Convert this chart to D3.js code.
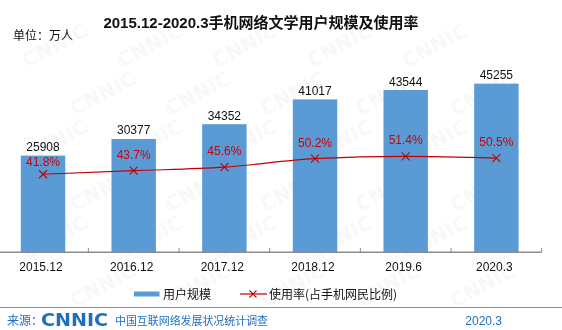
<!DOCTYPE html>
<html><head><meta charset="utf-8">
<script src="https://cdn.jsdelivr.net/npm/d3@7"></script>
<style>html,body{margin:0;padding:0;background:#fff;}svg{display:block;}</style>
</head><body>
<svg id="c" width="562" height="330"></svg>
<script>
const categories = ["2015.12","2016.12","2017.12","2018.12","2019.6","2020.3"];
const users = [25908, 30377, 34352, 41017, 43544, 45255];
const rates = [41.8, 43.7, 45.6, 50.2, 51.4, 50.5];
const title = "2015.12-2020.3手机网络文学用户规模及使用率";
const unitLabel = "单位：万人";
const legendNames = ["用户规模", "使用率(占手机网民比例)"];

const svg = d3.select("#c");
const W = 562, H = 330;
const blue = "#5b9bd5", red = "#c00000", footBlue = "#1f6fc0";
const fontLat = "'Liberation Sans', Arial, sans-serif";
const fontCJK = "'Liberation Sans', 'Noto Sans CJK SC', sans-serif";

// faint watermark (kept fully inside the picture)
const wm = svg.append("g").attr("fill", "#000").attr("opacity", 0.03)
  .style("font-family", "'DejaVu Sans', sans-serif").style("font-weight", "bold").style("font-size", "20px");
for (let r = 0; r < 8; r++) {
  for (let c = 0; c < 8; c++) {
    const px = c * 95 + (r % 2) * 47 - 20;
    const py = r * 48 + 20;
    if (px < 4 || px > W - 72 || py < 42 || py > H - 6) continue;
    wm.append("text").attr("transform", `translate(${px},${py}) rotate(-28)`).text("CNNIC");
  }
}

const x = d3.scaleBand().domain(categories).range([-2.3, 541.7]).paddingInner(0.51).paddingOuter(0.255);
const yL = d3.scaleLinear().domain([0, 50000]).range([252, 66]);
const yR = d3.scaleLinear().domain([0, 100]).range([252, 66]);

// bars
svg.append("g").selectAll("rect").data(users).join("rect")
  .attr("x", (d, i) => x(categories[i]))
  .attr("width", x.bandwidth())
  .attr("y", d => yL(d))
  .attr("height", d => yL(0) - yL(d))
  .attr("fill", blue);

// bar labels
svg.append("g").selectAll("text").data(users).join("text")
  .attr("x", (d, i) => x(categories[i]) + x.bandwidth() / 2)
  .attr("y", d => yL(d) - 4.5)
  .attr("text-anchor", "middle")
  .style("font-family", fontLat).style("font-size", "12px").attr("fill", "#111")
  .text(d => d);

// x axis
const step = x.step();
const axis = svg.append("g");
axis.append("line").attr("x1", 0).attr("x2", 541.7).attr("y1", 252.3).attr("y2", 252.3)
  .attr("stroke", "#8c8c8c").attr("stroke-width", 1.5);
const bounds = categories.map(c => x(c) - (step - x.bandwidth()) / 2 + step);
axis.selectAll("line.t").data(bounds).join("line").attr("class", "t")
  .attr("x1", d => d).attr("x2", d => d).attr("y1", 248).attr("y2", 252.3)
  .attr("stroke", "#8c8c8c").attr("stroke-width", 1);
axis.selectAll("text").data(categories).join("text")
  .attr("x", d => x(d) + x.bandwidth() / 2 - 2)
  .attr("y", 270.5)
  .attr("text-anchor", "middle")
  .style("font-family", fontLat).style("font-size", "12px").attr("fill", "#111")
  .text(d => d);

// line
const cx = i => x(categories[i]) + x.bandwidth() / 2;
const line = d3.line().x((d, i) => cx(i)).y(d => yR(d)).curve(d3.curveMonotoneX);
svg.append("path").datum(rates).attr("d", line).attr("fill", "none")
  .attr("stroke", red).attr("stroke-width", 1.2);
const mk = svg.append("g").attr("stroke", red).attr("stroke-width", 1.1);
rates.forEach((d, i) => {
  const px = cx(i), py = yR(d), s = 4;
  mk.append("path").attr("d", `M${px - s},${py - s}L${px + s},${py + s}M${px - s},${py + s}L${px + s},${py - s}`);
});
// percent labels: above the marker, but kept below the bar's value label
svg.append("g").selectAll("text").data(rates).join("text")
  .attr("x", (d, i) => cx(i))
  .attr("y", (d, i) => Math.max(yR(d) - 12, yL(users[i]) - 4.5 + 15))
  .attr("text-anchor", "middle")
  .style("font-family", fontLat).style("font-size", "12px").attr("fill", "#cc0000")
  .text(d => d.toFixed(1) + "%");

// title
svg.append("text").attr("x", 261).attr("y", 28).attr("text-anchor", "middle")
  .style("font-family", fontCJK).style("font-weight", "bold").style("font-size", "15px")
  .attr("fill", "#111").text(title);
svg.append("text").attr("x", 13).attr("y", 39.5)
  .style("font-family", "'Noto Sans CJK SC', sans-serif").style("font-size", "12px")
  .attr("fill", "#111").text(unitLabel);

// legend
const lg = svg.append("g");
lg.append("rect").attr("x", 134).attr("y", 291.5).attr("width", 25.5).attr("height", 5).attr("fill", blue);
lg.append("text").attr("x", 163).attr("y", 298.5)
  .style("font-family", "'Noto Sans CJK SC', sans-serif").style("font-size", "12px").attr("fill", "#111").text(legendNames[0]);
lg.append("line").attr("x1", 240).attr("x2", 267).attr("y1", 294).attr("y2", 294).attr("stroke", red).attr("stroke-width", 1.2);
lg.append("path").attr("d", "M249.5,290.5L256.5,297.5M249.5,297.5L256.5,290.5").attr("stroke", red).attr("stroke-width", 1.1);
lg.append("text").attr("x", 269).attr("y", 298.5)
  .style("font-family", "'Noto Sans CJK SC', sans-serif").style("font-size", "12px").attr("fill", "#111").text(legendNames[1]);

// footer
svg.append("line").attr("x1", 0).attr("x2", W).attr("y1", 307.5).attr("y2", 307.5).attr("stroke", "#5b9bd5").attr("stroke-width", 1.2);
svg.append("text").attr("x", 7).attr("y", 324.5)
  .style("font-family", "'Noto Sans CJK SC', sans-serif").style("font-size", "12px").attr("fill", footBlue).text("来源：");
svg.append("text").attr("x", 41).attr("y", 325.5).attr("textLength", 67).attr("lengthAdjust", "spacingAndGlyphs")
  .style("font-family", "'DejaVu Sans', sans-serif").style("font-weight", "bold").style("font-size", "18px")
  .attr("fill", footBlue).text("CNNIC");
svg.append("text").attr("x", 115).attr("y", 324.5).attr("textLength", 153).attr("lengthAdjust", "spacingAndGlyphs")
  .style("font-family", "'Noto Sans CJK SC', sans-serif").style("font-size", "11px").attr("fill", footBlue).text("中国互联网络发展状况统计调查");
svg.append("text").attr("x", 502).attr("y", 324.5).attr("text-anchor", "end")
  .style("font-family", fontLat).style("font-size", "12px").attr("fill", footBlue).text("2020.3");
</script>
</body></html>
